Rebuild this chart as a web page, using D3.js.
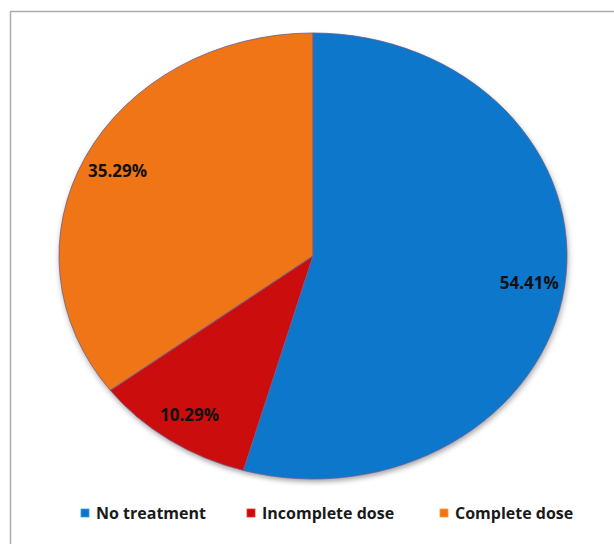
<!DOCTYPE html>
<html><head><meta charset="utf-8">
<script src="https://cdn.jsdelivr.net/npm/d3@7/dist/d3.min.js"></script>
<style>
html,body{margin:0;padding:0;background:#fff;}
svg{display:block;}
</style></head>
<body>
<svg id="chart" width="614" height="544"></svg>
<script>
const categories = ["No treatment", "Incomplete dose", "Complete dose"];
const values = [54.41, 10.29, 35.29];
const labels = ["54.41%", "10.29%", "35.29%"];
const colors = ["#0777cb", "#cc0a0a", "#f07512"];
const edgeColors = ["#3a9be6", "#f03030", "#ff9a3a"];

const svg = d3.select("#chart");
const W = 614, H = 544;
const cx = 313, cy = 256, rx = 254, ry = 223;

// frame
svg.append("rect").attr("x", 10.5).attr("y", 11.5).attr("width", 700).attr("height", 700)
  .attr("fill", "none").attr("stroke", "#ababab").attr("stroke-width", 1.5);

const defs = svg.append("defs");
const f = defs.append("filter").attr("id", "shadow").attr("x", "-10%").attr("y", "-10%").attr("width", "120%").attr("height", "125%");
f.append("feGaussianBlur").attr("in", "SourceAlpha").attr("stdDeviation", 3).attr("result", "b");
f.append("feOffset").attr("in", "b").attr("dx", 1).attr("dy", 3).attr("result", "o");
f.append("feComponentTransfer").attr("in", "o").attr("result", "s")
  .append("feFuncA").attr("type", "linear").attr("slope", 0.35);
const m = f.append("feMerge");
m.append("feMergeNode").attr("in", "s");
m.append("feMergeNode").attr("in", "SourceGraphic");

const pie = d3.pie().sort(null).value(d => d)(values);
const arc = d3.arc().innerRadius(0).outerRadius(rx);

const g = svg.append("g").attr("transform", `translate(${cx},${cy}) scale(1,${ry/rx})`);

// shadow base
g.append("g").attr("filter", "url(#shadow)")
  .selectAll("path").data(pie).join("path")
  .attr("d", arc).attr("fill", (d, i) => colors[i]);

// clip paths for bevel
pie.forEach((d, i) => {
  defs.append("clipPath").attr("id", "clip" + i)
    .attr("clipPathUnits", "userSpaceOnUse")
    .append("path").attr("d", arc(d))
    .attr("transform", `translate(${cx},${cy}) scale(1,${ry/rx})`);
});

const bevel = svg.append("g");
pie.forEach((d, i) => {
  bevel.append("path")
    .attr("d", arc(d))
    .attr("transform", `translate(${cx},${cy}) scale(1,${ry/rx})`)
    .attr("clip-path", `url(#clip${i})`)
    .attr("fill", "none")
    .attr("stroke", edgeColors[i])
    .attr("stroke-opacity", 0.6)
    .attr("stroke-width", 5)
    .attr("vector-effect", "non-scaling-stroke");
});

// thin outlines
g.append("g").selectAll("path").data(pie).join("path")
  .attr("d", arc).attr("fill", "none")
  .attr("stroke", "#6b5f8f").attr("stroke-opacity", 0.8)
  .attr("stroke-width", 1)
  .attr("vector-effect", "non-scaling-stroke");

// labels
const lr = 0.86;
svg.append("g").selectAll("text").data(pie).join("text")
  .attr("x", d => { const a = (d.startAngle + d.endAngle) / 2; return cx + lr * rx * Math.sin(a); })
  .attr("y", d => { const a = (d.startAngle + d.endAngle) / 2; return cy - lr * ry * Math.cos(a); })
  .attr("text-anchor", "middle").attr("dominant-baseline", "central")
  .attr("font-family", "'Open Sans', sans-serif").attr("font-weight", 700)
  .attr("font-size", 17).attr("fill", "#111")
  .text((d, i) => labels[i]);

// legend
const legendX = [81, 247, 440];
const leg = svg.append("g");
categories.forEach((c, i) => {
  const lg = leg.append("g").attr("transform", `translate(${legendX[i]},509)`);
  lg.append("rect").attr("width", 8).attr("height", 8).attr("fill", colors[i])
    .attr("stroke", edgeColors[i]).attr("stroke-width", 0.8);
  lg.append("text").attr("x", 15).attr("y", 4).attr("dominant-baseline", "central")
    .attr("font-family", "'Open Sans', sans-serif").attr("font-weight", 700)
    .attr("font-size", 16).attr("fill", "#1a1a1a").text(c);
});
</script>
</body></html>
